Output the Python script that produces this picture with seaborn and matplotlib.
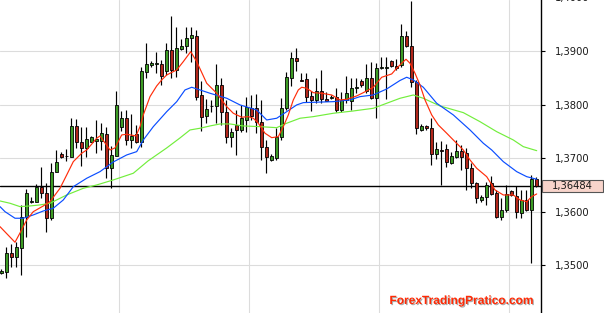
import numpy as np
import matplotlib
matplotlib.use("Agg")
import matplotlib.pyplot as plt
import matplotlib.transforms as mtransforms
import matplotlib.patheffects as pe
from matplotlib.patches import Rectangle
from matplotlib.ticker import FuncFormatter
import seaborn as sns

# ---------------- data ----------------
opens = [1.3486, 1.3488, 1.3523, 1.3516, 1.3533, 1.3591, 1.3618, 1.3619, 1.3646, 1.3636,
         1.3588, 1.3675, 1.3709, 1.3704, 1.3703, 1.3760, 1.3731, 1.3720, 1.3731, 1.3732,
         1.3732, 1.3745, 1.3681, 1.3705, 1.3759, 1.3775, 1.3735, 1.3746, 1.3731, 1.3862,
         1.3874, 1.3877, 1.3876, 1.3863, 1.3902, 1.3865, 1.3905, 1.3909, 1.3925, 1.3929,
         1.3818, 1.3779, 1.3797, 1.3797, 1.3837, 1.3786, 1.3740, 1.3763, 1.3753, 1.3772,
         1.3794, 1.3794, 1.3768, 1.3722, 1.3696, 1.3701, 1.3740, 1.3794, 1.3851, 1.3887,
         1.3846, 1.3848, 1.3817, 1.3809, 1.3825, 1.3810, 1.3812, 1.3814, 1.3790, 1.3809,
         1.3808, 1.3832, 1.3845, 1.3825, 1.3851, 1.3812, 1.3869, 1.3869, 1.3882, 1.3873,
         1.3874, 1.3929, 1.3910, 1.3842, 1.3753, 1.3760, 1.3756, 1.3708, 1.3716, 1.3717,
         1.3692, 1.3703, 1.3714, 1.3710, 1.3681, 1.3653, 1.3623, 1.3628, 1.3654, 1.3635,
         1.3591, 1.3603, 1.3638, 1.3630, 1.3598, 1.3623, 1.3603, 1.3661]
highs = [1.3493, 1.3535, 1.3540, 1.3544, 1.3613, 1.3643, 1.3628, 1.3652, 1.3683, 1.3653,
         1.3691, 1.3716, 1.3712, 1.3717, 1.3775, 1.3774, 1.3759, 1.3759, 1.3742, 1.3772,
         1.3766, 1.3759, 1.3723, 1.3826, 1.3789, 1.3790, 1.3783, 1.3762, 1.3871, 1.3916,
         1.3881, 1.3899, 1.3884, 1.3916, 1.3966, 1.3945, 1.3923, 1.3946, 1.3945, 1.3940,
         1.3845, 1.3811, 1.3809, 1.3876, 1.3850, 1.3809, 1.3757, 1.3790, 1.3800, 1.3815,
         1.3818, 1.3820, 1.3809, 1.3734, 1.3708, 1.3757, 1.3813, 1.3861, 1.3899, 1.3906,
         1.3860, 1.3860, 1.3825, 1.3851, 1.3865, 1.3824, 1.3818, 1.3831, 1.3824, 1.3853,
         1.3850, 1.3850, 1.3848, 1.3876, 1.3880, 1.3879, 1.3889, 1.3890, 1.3884, 1.3885,
         1.3951, 1.3938, 1.3994, 1.3846, 1.3764, 1.3762, 1.3775, 1.3731, 1.3732, 1.3727,
         1.3712, 1.3734, 1.3725, 1.3719, 1.3691, 1.3656, 1.3632, 1.3656, 1.3667, 1.3641,
         1.3625, 1.3650, 1.3641, 1.3648, 1.3641, 1.3640, 1.3669, 1.3666]
lows = [1.3484, 1.3477, 1.3497, 1.3497, 1.3482, 1.3553, 1.3617, 1.3618, 1.3626, 1.3563,
        1.3585, 1.3674, 1.3701, 1.3695, 1.3702, 1.3719, 1.3685, 1.3703, 1.3730, 1.3710,
        1.3716, 1.3663, 1.3645, 1.3704, 1.3751, 1.3725, 1.3719, 1.3729, 1.3722, 1.3851,
        1.3870, 1.3859, 1.3837, 1.3856, 1.3850, 1.3852, 1.3902, 1.3896, 1.3880, 1.3809,
        1.3751, 1.3766, 1.3787, 1.3766, 1.3762, 1.3729, 1.3722, 1.3706, 1.3750, 1.3750,
        1.3772, 1.3747, 1.3697, 1.3673, 1.3695, 1.3697, 1.3734, 1.3790, 1.3835, 1.3864,
        1.3845, 1.3806, 1.3789, 1.3803, 1.3803, 1.3807, 1.3811, 1.3787, 1.3787, 1.3803,
        1.3790, 1.3822, 1.3833, 1.3822, 1.3811, 1.3775, 1.3867, 1.3811, 1.3871, 1.3865,
        1.3871, 1.3908, 1.3833, 1.3745, 1.3751, 1.3753, 1.3688, 1.3698, 1.3650, 1.3684,
        1.3689, 1.3701, 1.3678, 1.3641, 1.3644, 1.3616, 1.3619, 1.3613, 1.3632, 1.3589,
        1.3585, 1.3600, 1.3630, 1.3588, 1.3588, 1.3602, 1.3504, 1.3646]
closes = [1.3490, 1.3523, 1.3516, 1.3534, 1.3591, 1.3635, 1.3620, 1.3646, 1.3636, 1.3588,
          1.3675, 1.3693, 1.3703, 1.3705, 1.3760, 1.3730, 1.3720, 1.3737, 1.3739, 1.3737,
          1.3747, 1.3681, 1.3706, 1.3799, 1.3775, 1.3735, 1.3742, 1.3731, 1.3863, 1.3876,
          1.3878, 1.3878, 1.3854, 1.3902, 1.3865, 1.3906, 1.3910, 1.3925, 1.3930, 1.3815,
          1.3778, 1.3792, 1.3798, 1.3837, 1.3787, 1.3740, 1.3749, 1.3752, 1.3775, 1.3795,
          1.3779, 1.3768, 1.3722, 1.3702, 1.3704, 1.3740, 1.3794, 1.3852, 1.3887, 1.3882,
          1.3845, 1.3815, 1.3809, 1.3825, 1.3810, 1.3808, 1.3815, 1.3790, 1.3809, 1.3822,
          1.3831, 1.3833, 1.3837, 1.3851, 1.3813, 1.3868, 1.3870, 1.3871, 1.3873, 1.3869,
          1.3929, 1.3910, 1.3842, 1.3756, 1.3760, 1.3756, 1.3708, 1.3717, 1.3714, 1.3693,
          1.3704, 1.3714, 1.3703, 1.3681, 1.3653, 1.3626, 1.3628, 1.3651, 1.3634, 1.3591,
          1.3603, 1.3633, 1.3632, 1.3600, 1.3622, 1.3603, 1.3661, 1.36484]

last_price = 1.36484
price_ticks = [1.35, 1.36, 1.37, 1.38, 1.39]

# moving-average lines, read at sample points (x = candle index, y = price)
red_x = [-0.26, 2.74, 3.74, 5.08, 6.4, 8.4, 9.74, 11.74, 13.08, 14.4, 16.08, 17.08, 19.08,
         19.74, 21.74, 22.74, 24.08, 25.08, 26.94, 27.74, 28.4, 29.74, 31.08, 32.08, 33.08,
         35.08, 36.4, 37.88, 39.08, 41.08, 43.08, 45.08, 46.4, 48.08, 49.4, 50.4, 51.4,
         52.74, 54.08, 55.4, 56.4, 57.4, 58.4, 59.4, 60.08, 61.08, 62.4, 64.08, 66.08,
         67.74, 69.08, 71.08, 72.4, 74.4, 76.08, 78.08, 79.08, 80.08, 80.94, 81.74, 82.74,
         83.74, 84.74, 86.08, 87.4, 89.08, 90.4, 92.4, 93.74, 95.08, 97.08, 98.74, 100.4,
         102.4, 103.74, 105.08, 106.08, 107.08]
red_y = [1.35723, 1.35431, 1.35605, 1.35848, 1.36003, 1.36110, 1.36190, 1.36440, 1.36689,
         1.36938, 1.37095, 1.37156, 1.37375, 1.37418, 1.37156, 1.37194, 1.37437, 1.37450,
         1.37418, 1.37592, 1.37811, 1.38153, 1.38353, 1.38465, 1.38558, 1.38652, 1.38807,
         1.38994, 1.38807, 1.38403, 1.38216, 1.37966, 1.37842, 1.37768, 1.37779, 1.37749,
         1.37656, 1.37469, 1.37386, 1.37405, 1.37592, 1.37811, 1.38091, 1.38278, 1.38328,
         1.38310, 1.38227, 1.38216, 1.38184, 1.38091, 1.38104, 1.38166, 1.38227, 1.38328,
         1.38515, 1.38577, 1.38683, 1.38777, 1.38852, 1.38777, 1.38590, 1.38371, 1.38091,
         1.37811, 1.37624, 1.37469, 1.37343, 1.37156, 1.36969, 1.36814, 1.36657, 1.36409,
         1.36315, 1.36315, 1.36222, 1.36190, 1.36284, 1.36334]

blue_x = [-0.26, 0.74, 2.74, 4.4, 6.4, 8.4, 10.4, 12.4, 14.4, 17.08, 19.74, 22.4, 25.08,
          27.08, 28.4, 30.4, 33.08, 35.08, 36.74, 38.08, 39.74, 41.74, 45.08, 47.74, 51.08,
          53.08, 55.08, 57.08, 59.08, 60.4, 66.4, 69.74, 71.74, 74.4, 77.08, 79.74, 81.08,
          82.4, 84.4, 87.08, 90.4, 93.74, 96.4, 98.08, 100.4, 103.08, 105.08, 107.08]
blue_y = [1.36097, 1.36003, 1.35880, 1.35880, 1.35942, 1.36016, 1.36067, 1.36222, 1.36470,
          1.36627, 1.36751, 1.36932, 1.37063, 1.37125, 1.37343, 1.37592, 1.37872, 1.38059,
          1.38278, 1.38328, 1.38278, 1.38216, 1.38123, 1.37998, 1.37904, 1.37717, 1.37749,
          1.37872, 1.37998, 1.38041, 1.38059, 1.38091, 1.38153, 1.38184, 1.38296, 1.38455,
          1.38515, 1.38465, 1.38328, 1.38029, 1.37811, 1.37530, 1.37282, 1.37156, 1.36938,
          1.36751, 1.36657, 1.36609]

green_x = [-0.26, 1.74, 3.74, 5.74, 7.74, 9.74, 13.08, 16.4, 19.08, 22.4, 26.4, 29.34,
           33.08, 35.74, 37.74, 39.74, 41.74, 43.74, 45.74, 48.4, 51.74, 55.08, 57.08,
           59.74, 62.4, 66.4, 70.4, 74.4, 77.08, 79.74, 81.08, 82.4, 84.4, 87.74, 92.4,
           95.74, 99.08, 102.4, 104.4, 107.08]
green_y = [1.36203, 1.36160, 1.36097, 1.36110, 1.36129, 1.36160, 1.36315, 1.36440, 1.36502,
           1.36596, 1.36721, 1.36951, 1.37194, 1.37381, 1.37530, 1.37562, 1.37605, 1.37642,
           1.37642, 1.37605, 1.37592, 1.37573, 1.37656, 1.37749, 1.37779, 1.37842, 1.37885,
           1.37935, 1.38029, 1.38122, 1.38153, 1.38184, 1.38122, 1.37979, 1.37854, 1.37685,
           1.37498, 1.37343, 1.37218, 1.37143]

grid_x = [23.6, 49.6, 75.6, 101.6]
watermark = "ForexTradingPratico.com"

# ---------------- styling ----------------
sns.set_style("white")
plt.rcParams['font.family'] = ['DejaVu Sans']

W, H = 604, 313
fig = plt.figure(figsize=(W / 100, H / 100), dpi=100)
ax_right_px = 540.7
ax = fig.add_axes([0, 0, ax_right_px / W, 1])

GREEN = "#3c9b24"
RED = "#b1261a"

o = np.array(opens)
h = np.array(highs)
l = np.array(lows)
c = np.array(closes)
idx = np.arange(len(o))
up = c >= o
bottoms = np.minimum(o, c)
heights = np.maximum(np.abs(c - o), 0.00009)

ax.vlines(idx, l, h, color="black", lw=0.85, zorder=3)
ax.bar(idx[up], heights[up], bottom=bottoms[up], width=0.62, color=GREEN,
       edgecolor="black", linewidth=0.6, zorder=4)
ax.bar(idx[~up], heights[~up], bottom=bottoms[~up], width=0.62, color=RED,
       edgecolor="black", linewidth=0.6, zorder=4)

sns.lineplot(x=green_x, y=green_y, ax=ax, color="#72ee3c", lw=0.85, zorder=5, estimator=None)
sns.lineplot(x=blue_x, y=blue_y, ax=ax, color="#0a4dff", lw=0.85, zorder=5, estimator=None)
sns.lineplot(x=red_x, y=red_y, ax=ax, color="#ff2d0a", lw=0.85, zorder=5, estimator=None)

ax.axhline(last_price, color="black", lw=1.0, zorder=2.5)

ax.set_xlim(-0.26, 107.88)
ax.set_ylim(1.34109, 1.39959)

ax.set_xticks(grid_x)
ax.set_yticks(price_ticks)
ax.yaxis.tick_right()
ax.yaxis.set_major_formatter(FuncFormatter(lambda v, p: f"{v:.4f}".replace(".", ",")))
ax.tick_params(axis="x", bottom=False, labelbottom=False, length=0)
ax.tick_params(axis="y", right=True, left=False, direction="out", length=3.1, width=0.8,
               color="black", labelsize=7.2, pad=7, labelcolor="#1a1a1a")
ax.grid(True, color="#dcdcdc", lw=0.8)
ax.set_axisbelow(True)

for s in ["top", "left", "bottom"]:
    ax.spines[s].set_visible(False)
ax.spines["right"].set_color("black")
ax.spines["right"].set_linewidth(1.0)
ax.set_xlabel("")
ax.set_ylabel("")

# partially visible top label
tf = mtransforms.blended_transform_factory(fig.transFigure, ax.transData)
ax.text(554.5 / W, 1.40, "1,4000", transform=tf, ha="left", va="center",
        fontsize=7.2, color="#1a1a1a", clip_on=False)

# last-price box
box_h = 0.00232
ax.add_patch(Rectangle((542.3 / W, last_price - box_h / 2), 60.4 / W, box_h,
                       transform=tf, facecolor="#f8d4cb", edgecolor="#555555",
                       lw=0.8, clip_on=False, zorder=6))
ax.text(572.5 / W, last_price, "1,36484", transform=tf, ha="center", va="center",
        fontsize=7.2, color="#1a1a1a", clip_on=False, zorder=7)

# watermark
fig.text(461 / W, 1 - 301 / H, watermark, ha="center", va="center",
         fontsize=8.6, fontweight="bold", family=["Liberation Sans", "DejaVu Sans"],
         color="#ff2a05",
         path_effects=[pe.withSimplePatchShadow(offset=(0.8, -0.8),
                                                shadow_rgbFace="#888888", alpha=0.7)])

fig.savefig("out.png", dpi=100)
